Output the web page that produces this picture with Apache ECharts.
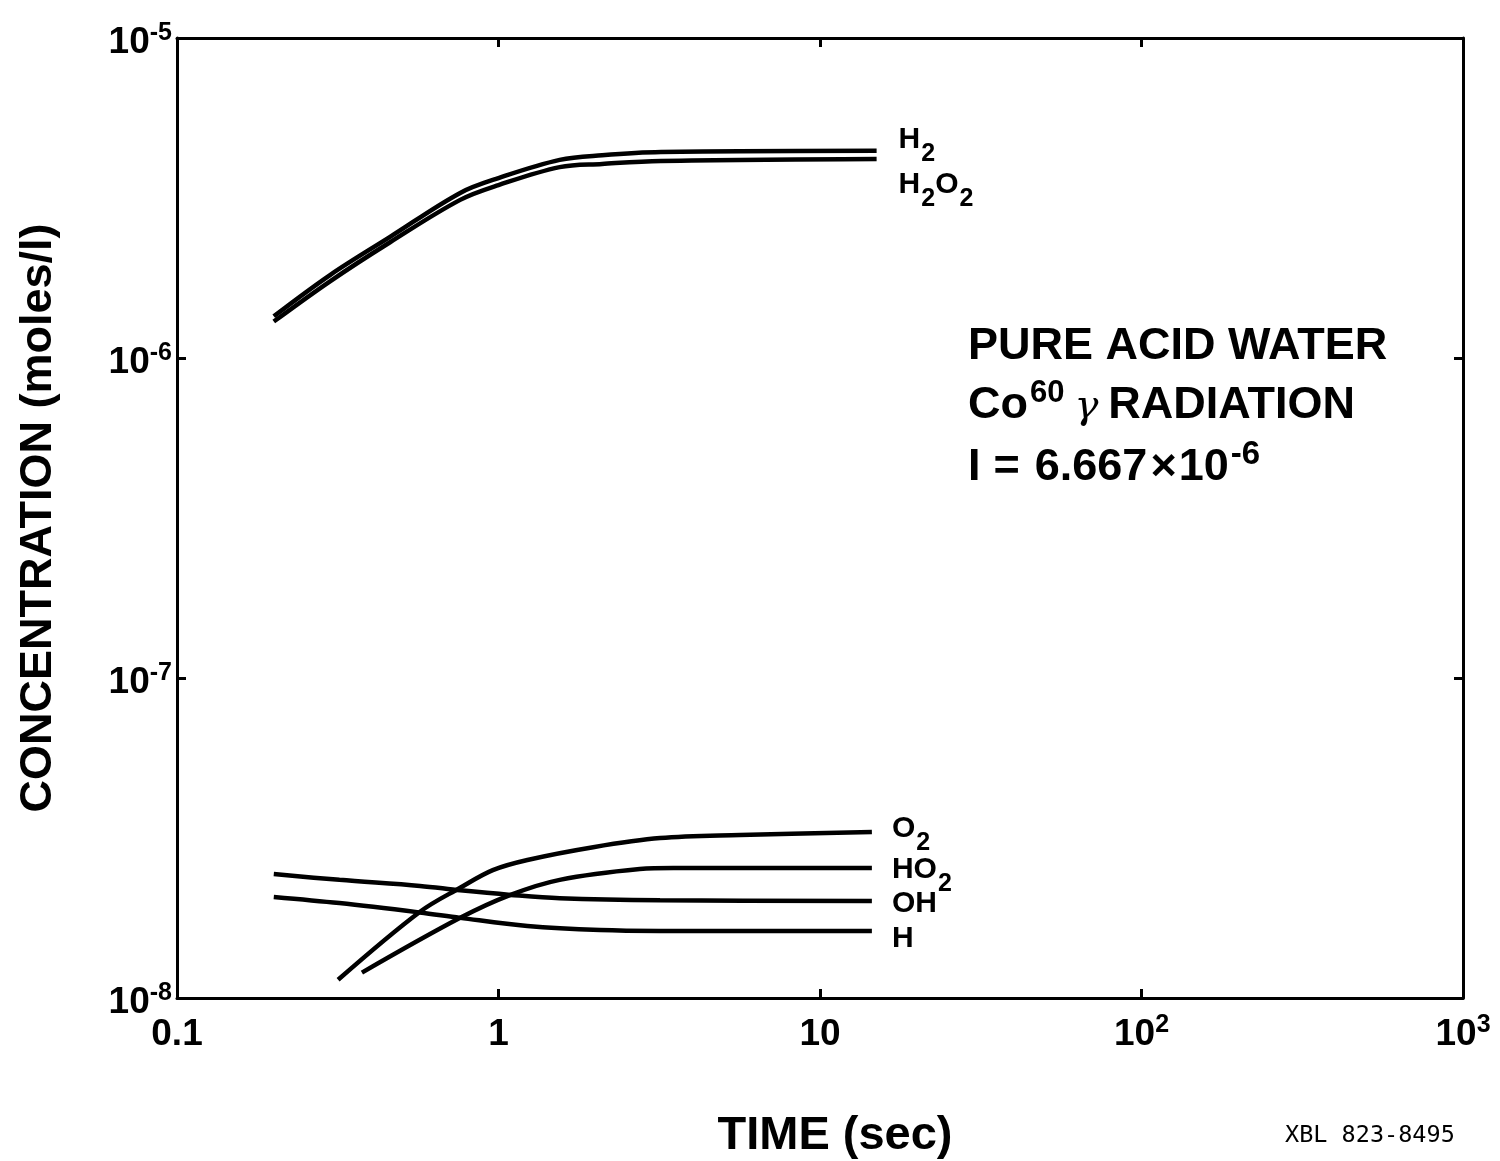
<!DOCTYPE html>
<html>
<head>
<meta charset="utf-8">
<script src="https://cdn.jsdelivr.net/npm/echarts@6/dist/echarts.min.js"></script>
<style>
html,body{margin:0;padding:0;background:#fff;}
#chart{width:1500px;height:1161px;}
</style>
</head>
<body>
<div id="chart"></div>
<script>
// ---- data (time in sec, concentration in moles/l) ----
const seriesNames = ['H2', 'H2O2', 'O2', 'HO2', 'OH', 'H'];
const h2Data   = [[0.2,1.35e-6],[0.3,1.82e-6],[0.46,2.39e-6],[0.76,3.28e-6],[1.0,3.65e-6],[1.55,4.16e-6],[2.1,4.30e-6],[3.2,4.40e-6],[15,4.44e-6]];
const h2o2Data = [[0.2,1.30e-6],[0.3,1.74e-6],[0.46,2.30e-6],[0.76,3.12e-6],[1.0,3.47e-6],[1.55,3.95e-6],[2.1,4.04e-6],[3.2,4.13e-6],[15,4.19e-6]];
const o2Data   = [[0.317,1.14e-8],[0.57,1.86e-8],[0.76,2.21e-8],[0.96,2.51e-8],[1.23,2.70e-8],[1.97,2.96e-8],[3.18,3.16e-8],[5.64,3.23e-8],[14.5,3.30e-8]];
const ho2Data  = [[0.376,1.20e-8],[0.76,1.78e-8],[1.09,2.10e-8],[1.55,2.34e-8],[2.75,2.53e-8],[3.5,2.55e-8],[14.5,2.55e-8]];
const ohData   = [[0.2,2.44e-8],[0.32,2.34e-8],[0.57,2.24e-8],[0.76,2.17e-8],[1.09,2.10e-8],[1.55,2.05e-8],[3.18,2.02e-8],[14.5,2.01e-8]];
const hData    = [[0.2,2.07e-8],[0.32,1.98e-8],[0.57,1.85e-8],[0.76,1.78e-8],[1.23,1.68e-8],[2.07,1.63e-8],[3.18,1.62e-8],[14.5,1.62e-8]];

// tick labels keyed by decade exponent
const xTickLabels = {'-1':'{b|0.1}','0':'{b|1}','1':'{b|10}','2':'{b|10}{s|2}','3':'{b|10}{s|3}'};
const yTickLabels = {'-8':'{b|10}{s|-8}','-7':'{b|10}{s|-7}','-6':'{b|10}{s|-6}','-5':'{b|10}{s|-5}'};

// series end labels
const endLabelText = {
  'H2':'{n|H}{sub|2}',
  'H2O2':'{n|H}{sub|2}{n|O}{sub|2}',
  'O2':'{n|O}{sub|2}',
  'HO2':'{n|HO}{sub|2}',
  'OH':'{n|OH}',
  'H':'{n|H}'
};
const endLabelOffset = {
  'H2':[17,-5], 'H2O2':[17,32], 'O2':[15,3], 'HO2':[15,8], 'OH':[15,4], 'H':[15,9]
};
const dataByName = {'H2':h2Data,'H2O2':h2o2Data,'O2':o2Data,'HO2':ho2Data,'OH':ohData,'H':hData};

const FONT = '"Liberation Sans", Arial, sans-serif';
const tickRich = {
  b:{fontFamily:FONT,fontWeight:'bold',fontSize:37,color:'#000',verticalAlign:'bottom',lineHeight:40},
  s:{fontFamily:FONT,fontWeight:'bold',fontSize:25,color:'#000',verticalAlign:'top',lineHeight:40}
};
const labRich = {
  n:{fontFamily:FONT,fontWeight:'bold',fontSize:30,color:'#000',verticalAlign:'top',lineHeight:32},
  sub:{fontFamily:FONT,fontWeight:'bold',fontSize:25,color:'#000',verticalAlign:'bottom',lineHeight:42,padding:[0,0,0,1]}
};

const chart = echarts.init(document.getElementById('chart'), null, {renderer:'canvas'});

function expOf(v){ return String(Math.round(Math.log10(v))); }

const axisLineStyle = {color:'#000', width:3};
const tickStyle = {color:'#000', width:3};

const option = {
  backgroundColor:'#fff',
  animation:false,
  grid:{left:177, right:37, top:38, bottom:163, containLabel:false, outerBoundsMode:'none'},
  xAxis:[{
    type:'log', logBase:10, min:0.1, max:1000, position:'bottom',
    axisLine:{show:true, onZero:false, lineStyle:axisLineStyle},
    axisTick:{show:true, inside:true, length:9, lineStyle:tickStyle},
    splitLine:{show:false}, minorTick:{show:false},
    axisLabel:{margin:15, formatter:v=>xTickLabels[expOf(v)]||'', rich:tickRich},
    name:'TIME (sec)', nameLocation:'middle', nameGap:115,
    nameTextStyle:{fontFamily:FONT, fontWeight:'bold', fontSize:47, color:'#000', padding:[0,0,0,30]}
  },{
    type:'log', logBase:10, min:0.1, max:1000, position:'top',
    axisLine:{show:true, onZero:false, lineStyle:axisLineStyle},
    axisTick:{show:true, inside:true, length:9, lineStyle:tickStyle},
    splitLine:{show:false}, axisLabel:{show:false}
  }],
  yAxis:[{
    type:'log', logBase:10, min:1e-8, max:1e-5, position:'left',
    axisLine:{show:true, onZero:false, lineStyle:axisLineStyle},
    axisTick:{show:true, inside:true, length:9, lineStyle:tickStyle},
    splitLine:{show:false}, minorTick:{show:false},
    axisLabel:{margin:5, padding:[6,0,0,0], formatter:v=>yTickLabels[expOf(v)]||'', rich:tickRich},
    name:'CONCENTRATION (moles/l)', nameLocation:'middle', nameGap:116, nameRotate:90,
    nameTextStyle:{fontFamily:FONT, fontWeight:'bold', fontSize:45, color:'#000'}
  },{
    type:'log', logBase:10, min:1e-8, max:1e-5, position:'right',
    axisLine:{show:true, onZero:false, lineStyle:axisLineStyle},
    axisTick:{show:true, inside:true, length:9, lineStyle:tickStyle},
    splitLine:{show:false}, axisLabel:{show:false}
  }],
  series: seriesNames.map(name=>({
    name:name, type:'line', xAxisIndex:0, yAxisIndex:0,
    data:dataByName[name], smooth:0.35,
    showSymbol:false, symbol:'none',
    lineStyle:{color:'#000', width:4.5, cap:'butt'},
    endLabel:{show:true, formatter:()=>endLabelText[name], rich:labRich,
      offset:endLabelOffset[name], distance:5},
    emphasis:{disabled:true}, silent:true
  })),
  graphic:[
    {type:'text', left:968, top:324, style:{text:'PURE ACID WATER', fill:'#000',
      font:'bold 45px "Liberation Sans", Arial, sans-serif'}},
    {type:'text', left:968, top:378, style:{
      text:'{n|Co}{sup|60}{g|γ}{n|RADIATION}',
      rich:{
        n:{fontFamily:FONT,fontWeight:'bold',fontSize:45,color:'#000',verticalAlign:'bottom',lineHeight:50},
        sup:{fontFamily:FONT,fontWeight:'bold',fontSize:31,color:'#000',verticalAlign:'top',lineHeight:50,padding:[0,0,0,2]},
        g:{fontFamily:'"DejaVu Serif", serif',fontStyle:'italic',fontSize:40,color:'#000',verticalAlign:'bottom',lineHeight:50,padding:[0,10,0,10]}
      }}},
    {type:'text', left:968, top:438, style:{
      text:'{n|I}{eq|=}{n|6.667}{x|×}{n|10}{sup|-6}',
      rich:{
        n:{fontFamily:FONT,fontWeight:'bold',fontSize:45,color:'#000',verticalAlign:'bottom',lineHeight:52},
        eq:{fontFamily:FONT,fontWeight:'bold',fontSize:45,color:'#000',verticalAlign:'bottom',lineHeight:52,padding:[0,15,0,13]},
        x:{fontFamily:FONT,fontWeight:'bold',fontSize:45,color:'#000',verticalAlign:'bottom',lineHeight:52,padding:[0,2,0,3]},
        sup:{fontFamily:FONT,fontWeight:'bold',fontSize:33,color:'#000',verticalAlign:'top',lineHeight:52,padding:[0,0,0,2]}
      }}},
    {type:'text', left:1285, top:1124, style:{text:'XBL 823-8495', fill:'#000',
      font:'23.5px "DejaVu Sans Mono", "Liberation Mono", monospace'}}
  ]
};
chart.setOption(option);
</script>
</body>
</html>
